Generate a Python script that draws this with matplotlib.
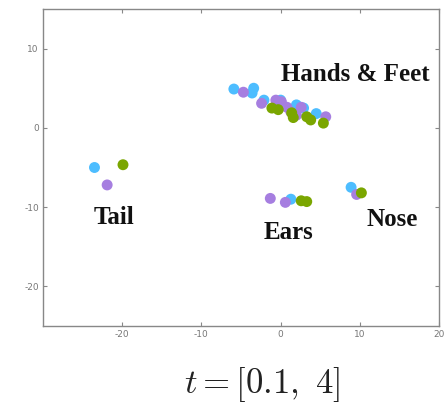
import matplotlib.pyplot as plt

plt.rcParams['mathtext.fontset'] = 'cm'
plt.rcParams['axes.unicode_minus'] = False

# embedding coordinates per color group
blue_x = [-23.5, 1.3, 8.9, -5.9, -3.4, -3.6, -2.1, 0.0, 2.0, 2.9, 4.5]
blue_y = [-5.0, -9.0, -7.5, 4.9, 5.0, 4.4, 3.5, 3.5, 2.9, 2.5, 1.8]

purple_x = [-21.9, -1.3, 0.6, 9.6, -4.7, -2.4, -0.6, 0.1, 0.8, 2.6, 1.3, 2.0, 5.7]
purple_y = [-7.2, -8.9, -9.4, -8.4, 4.5, 3.1, 3.5, 3.3, 2.6, 2.6, 2.0, 1.6, 1.4]

green_x = [-19.9, 2.6, 3.3, 10.2, -1.1, -0.3, 1.4, 1.6, 3.3, 3.8, 5.4]
green_y = [-4.65, -9.2, -9.3, -8.2, 2.5, 2.3, 1.9, 1.3, 1.4, 1.0, 0.6]

labels = ['Hands & Feet', 'Tail', 'Ears', 'Nose']
label_x = [0.0, -23.6, -2.2, 10.9]
label_y = [6.7, -11.3, -13.2, -11.6]

fig = plt.figure(figsize=(4.44, 4.04), dpi=100)
ax = fig.add_axes([43/444, 1 - 326/404, 396/444, 317/404])

ax.scatter(blue_x, blue_y, s=62, color='#4dbdff', edgecolors='none')
ax.scatter(purple_x, purple_y, s=62, color='#a67ee0', edgecolors='none')
ax.scatter(green_x, green_y, s=62, color='#7aa600', edgecolors='none')

for t, x, y in zip(labels, label_x, label_y):
    ax.text(x, y, t, fontsize=18, fontweight='bold', family='Liberation Serif',
            ha='left', va='center', color='#111111')

ax.set_xlim(-30, 20)
ax.set_ylim(-25, 15)
ax.set_xticks([-20, -10, 0, 10, 20])
ax.set_yticks([-20, -10, 0, 10])
ax.tick_params(direction='in', top=True, right=True, length=3, width=0.8,
               color='#888888', labelcolor='#777777', labelsize=6.5, pad=3)
for sp in ax.spines.values():
    sp.set_color('#888888')
    sp.set_linewidth(1.0)

fig.text(262/444, 1 - 384/404, r'$t = [0.1,\ 4]$', fontsize=25,
         ha='center', va='center', color='#222222')

fig.savefig('out.png', dpi=100)
